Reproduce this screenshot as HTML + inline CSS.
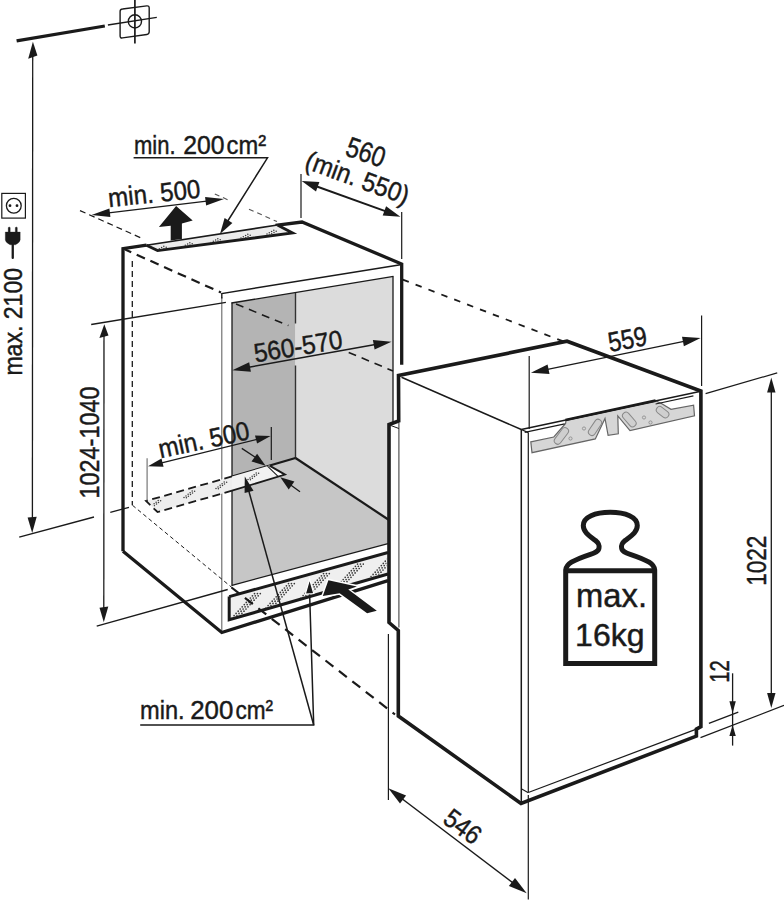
<!DOCTYPE html>
<html><head><meta charset="utf-8"><style>
html,body{margin:0;padding:0;background:#fff;}
svg{display:block;}
text{font-family:"Liberation Sans",sans-serif;stroke:#1a1a1a;stroke-width:0.45px;}
</style></head><body>
<svg width="784" height="900" viewBox="0 0 784 900">
<rect width="784" height="900" fill="#fff"/>
<defs><clipPath id="c0"><polygon points="230.5,598.5 386.5,554.5 386.5,572.5 230.5,617.8"/></clipPath><clipPath id="c1"><polygon points="148,501 262,468.5 276,476.5 159,510.5"/></clipPath><clipPath id="c2"><polygon points="148,245.8 277,225.8 290.5,232.8 157.8,249.7"/></clipPath></defs>
<polygon points="232,303 295.5,292.6 295.5,458 232,476.6" fill="#b4b4b4" stroke="none" stroke-width="0"/>
<polygon points="295.5,292.6 393,276.6 393,524 295.5,458" fill="#dcdcdc" stroke="none" stroke-width="0"/>
<polygon points="232,476.6 295.5,458 388,519 388,543.6 232,585.5" fill="#c6c6c6" stroke="none" stroke-width="0"/>
<line x1="232" y1="302.5" x2="232" y2="586" stroke="#1a1a1a" stroke-width="1.3" stroke-linecap="butt"/>
<line x1="231.5" y1="303" x2="393.5" y2="276.4" stroke="#1a1a1a" stroke-width="1.3" stroke-linecap="butt"/>
<line x1="393" y1="276.6" x2="393" y2="430" stroke="#1a1a1a" stroke-width="1.3" stroke-linecap="butt"/>
<line x1="295.5" y1="293" x2="295.5" y2="323.5" stroke="#333" stroke-width="1.4" stroke-linecap="butt"/>
<line x1="295.5" y1="365.5" x2="295.5" y2="458" stroke="#333" stroke-width="1.4" stroke-linecap="butt"/>
<line x1="295.5" y1="458" x2="389" y2="520" stroke="#1a1a1a" stroke-width="2.2" stroke-linecap="butt"/>
<line x1="295.5" y1="458" x2="232" y2="476.6" stroke="#1a1a1a" stroke-width="2.2" stroke-linecap="butt"/>
<line x1="232" y1="585.3" x2="388" y2="543.6" stroke="#1a1a1a" stroke-width="1.3" stroke-linecap="butt"/>
<line x1="221.8" y1="632.5" x2="221.8" y2="297" stroke="#666" stroke-width="1.1" stroke-linecap="butt"/>
<polyline points="221.8,298.5 221.8,293.5 400.5,264.8" fill="none" stroke="#1a1a1a" stroke-width="1.4" stroke-linejoin="miter" stroke-linecap="butt"/>
<polyline points="123,551.2 123,248.6 146.5,245.1" fill="none" stroke="#1a1a1a" stroke-width="3.3" stroke-linejoin="miter" stroke-linecap="butt"/>
<polyline points="275.5,225.3 302,222 401.7,264 401.7,364.8" fill="none" stroke="#1a1a1a" stroke-width="3.3" stroke-linejoin="miter" stroke-linecap="butt"/>
<polyline points="123,551.2 221.8,632.5 388,580.6" fill="none" stroke="#1a1a1a" stroke-width="3.3" stroke-linejoin="miter" stroke-linecap="butt"/>
<polygon points="146.4,245.3 277.4,225 292.6,233 157.6,250.6" fill="#ececec" stroke="none" stroke-width="0"/>
<line x1="146.4" y1="245.3" x2="277.4" y2="225" stroke="#1a1a1a" stroke-width="1.6" stroke-linecap="butt"/>
<polyline points="277.4,225 292.6,233 157.6,250.6 146.4,245.3" fill="none" stroke="#1a1a1a" stroke-width="2.8" stroke-linejoin="miter" stroke-linecap="butt"/>
<line x1="123" y1="248.6" x2="221" y2="292.5" stroke="#1a1a1a" stroke-width="2.2" stroke-linecap="butt" stroke-dasharray="9,6"/>
<line x1="132.3" y1="261" x2="132.3" y2="505.3" stroke="#1a1a1a" stroke-width="1.3" stroke-linecap="butt" stroke-dasharray="6,4"/>
<line x1="132.5" y1="505.3" x2="232" y2="587.6" stroke="#1a1a1a" stroke-width="1" stroke-linecap="butt" stroke-dasharray="4,3"/>
<line x1="236" y1="304" x2="288.4" y2="325.6" stroke="#1a1a1a" stroke-width="1.6" stroke-linecap="butt" stroke-dasharray="8,6"/>
<line x1="348.7" y1="352.4" x2="393" y2="371" stroke="#1a1a1a" stroke-width="1.6" stroke-linecap="butt" stroke-dasharray="8,6"/>
<polygon points="146,501 232,476.4 232,490.7 157.5,512" fill="#eeeeee" stroke="none" stroke-width="0"/>
<polyline points="232,476.4 146,501 157.5,512 232,490.7" fill="none" stroke="#1a1a1a" stroke-width="1.8" stroke-linejoin="miter" stroke-linecap="butt" stroke-dasharray="8,4.5"/>
<polygon points="232,476.4 269.5,465.6 285,474.6 232,490.7" fill="#f2f2f2" stroke="none" stroke-width="0"/>
<polygon points="267.5,466.2 269.5,465.6 285,474.6 278.3,476.6" fill="#ffffff" stroke="none" stroke-width="0"/>
<line x1="267.5" y1="466.2" x2="278.3" y2="476.6" stroke="#1a1a1a" stroke-width="1.1" stroke-linecap="butt"/>
<polyline points="269.5,465.6 285,474.6 232,490.7" fill="none" stroke="#1a1a1a" stroke-width="1.8" stroke-linejoin="miter" stroke-linecap="butt"/>
<polygon points="229.2,596.6 388,552.5 388,574 229.2,619.8" fill="#efefef" stroke="none" stroke-width="0"/>
<polyline points="229.2,596.6 388,552.5" fill="none" stroke="#1a1a1a" stroke-width="3" stroke-linejoin="miter" stroke-linecap="butt"/>
<polyline points="229.2,596.6 229.2,619.8 388,574" fill="none" stroke="#1a1a1a" stroke-width="3" stroke-linejoin="miter" stroke-linecap="butt"/>
<g clip-path="url(#c0)"><circle cx="230" cy="620" r="0.85" fill="#3a3a3a"/><circle cx="232.9" cy="620" r="0.85" fill="#3a3a3a"/><circle cx="235.8" cy="620" r="0.85" fill="#3a3a3a"/><circle cx="232" cy="617.8" r="0.85" fill="#3a3a3a"/><circle cx="234.9" cy="617.8" r="0.85" fill="#3a3a3a"/><circle cx="237.8" cy="617.8" r="0.85" fill="#3a3a3a"/><circle cx="234.1" cy="615.6" r="0.85" fill="#3a3a3a"/><circle cx="237" cy="615.6" r="0.85" fill="#3a3a3a"/><circle cx="239.9" cy="615.6" r="0.85" fill="#3a3a3a"/><circle cx="236.1" cy="613.4" r="0.85" fill="#3a3a3a"/><circle cx="239" cy="613.4" r="0.85" fill="#3a3a3a"/><circle cx="241.9" cy="613.4" r="0.85" fill="#3a3a3a"/><circle cx="238.2" cy="611.2" r="0.85" fill="#3a3a3a"/><circle cx="241.1" cy="611.2" r="0.85" fill="#3a3a3a"/><circle cx="244" cy="611.2" r="0.85" fill="#3a3a3a"/><circle cx="240.2" cy="609" r="0.85" fill="#3a3a3a"/><circle cx="243.1" cy="609" r="0.85" fill="#3a3a3a"/><circle cx="246" cy="609" r="0.85" fill="#3a3a3a"/><circle cx="242.2" cy="606.8" r="0.85" fill="#3a3a3a"/><circle cx="245.1" cy="606.8" r="0.85" fill="#3a3a3a"/><circle cx="248" cy="606.8" r="0.85" fill="#3a3a3a"/><circle cx="244.3" cy="604.6" r="0.85" fill="#3a3a3a"/><circle cx="247.2" cy="604.6" r="0.85" fill="#3a3a3a"/><circle cx="250.1" cy="604.6" r="0.85" fill="#3a3a3a"/><circle cx="246.3" cy="602.4" r="0.85" fill="#3a3a3a"/><circle cx="249.2" cy="602.4" r="0.85" fill="#3a3a3a"/><circle cx="252.1" cy="602.4" r="0.85" fill="#3a3a3a"/><circle cx="248.3" cy="600.2" r="0.85" fill="#3a3a3a"/><circle cx="251.2" cy="600.2" r="0.85" fill="#3a3a3a"/><circle cx="254.1" cy="600.2" r="0.85" fill="#3a3a3a"/><circle cx="250.4" cy="598" r="0.85" fill="#3a3a3a"/><circle cx="253.3" cy="598" r="0.85" fill="#3a3a3a"/><circle cx="256.2" cy="598" r="0.85" fill="#3a3a3a"/><circle cx="252.4" cy="595.8" r="0.85" fill="#3a3a3a"/><circle cx="255.3" cy="595.8" r="0.85" fill="#3a3a3a"/><circle cx="258.2" cy="595.8" r="0.85" fill="#3a3a3a"/><circle cx="254.5" cy="593.6" r="0.85" fill="#3a3a3a"/><circle cx="257.4" cy="593.6" r="0.85" fill="#3a3a3a"/><circle cx="260.3" cy="593.6" r="0.85" fill="#3a3a3a"/><circle cx="264" cy="610" r="0.85" fill="#3a3a3a"/><circle cx="266.9" cy="610" r="0.85" fill="#3a3a3a"/><circle cx="269.8" cy="610" r="0.85" fill="#3a3a3a"/><circle cx="266" cy="607.8" r="0.85" fill="#3a3a3a"/><circle cx="268.9" cy="607.8" r="0.85" fill="#3a3a3a"/><circle cx="271.8" cy="607.8" r="0.85" fill="#3a3a3a"/><circle cx="268.1" cy="605.6" r="0.85" fill="#3a3a3a"/><circle cx="271" cy="605.6" r="0.85" fill="#3a3a3a"/><circle cx="273.9" cy="605.6" r="0.85" fill="#3a3a3a"/><circle cx="270.1" cy="603.4" r="0.85" fill="#3a3a3a"/><circle cx="273" cy="603.4" r="0.85" fill="#3a3a3a"/><circle cx="275.9" cy="603.4" r="0.85" fill="#3a3a3a"/><circle cx="272.2" cy="601.2" r="0.85" fill="#3a3a3a"/><circle cx="275.1" cy="601.2" r="0.85" fill="#3a3a3a"/><circle cx="278" cy="601.2" r="0.85" fill="#3a3a3a"/><circle cx="274.2" cy="599" r="0.85" fill="#3a3a3a"/><circle cx="277.1" cy="599" r="0.85" fill="#3a3a3a"/><circle cx="280" cy="599" r="0.85" fill="#3a3a3a"/><circle cx="276.2" cy="596.8" r="0.85" fill="#3a3a3a"/><circle cx="279.1" cy="596.8" r="0.85" fill="#3a3a3a"/><circle cx="282" cy="596.8" r="0.85" fill="#3a3a3a"/><circle cx="278.3" cy="594.6" r="0.85" fill="#3a3a3a"/><circle cx="281.2" cy="594.6" r="0.85" fill="#3a3a3a"/><circle cx="284.1" cy="594.6" r="0.85" fill="#3a3a3a"/><circle cx="280.3" cy="592.4" r="0.85" fill="#3a3a3a"/><circle cx="283.2" cy="592.4" r="0.85" fill="#3a3a3a"/><circle cx="286.1" cy="592.4" r="0.85" fill="#3a3a3a"/><circle cx="282.3" cy="590.2" r="0.85" fill="#3a3a3a"/><circle cx="285.2" cy="590.2" r="0.85" fill="#3a3a3a"/><circle cx="288.1" cy="590.2" r="0.85" fill="#3a3a3a"/><circle cx="284.4" cy="588" r="0.85" fill="#3a3a3a"/><circle cx="287.3" cy="588" r="0.85" fill="#3a3a3a"/><circle cx="290.2" cy="588" r="0.85" fill="#3a3a3a"/><circle cx="286.4" cy="585.8" r="0.85" fill="#3a3a3a"/><circle cx="289.3" cy="585.8" r="0.85" fill="#3a3a3a"/><circle cx="292.2" cy="585.8" r="0.85" fill="#3a3a3a"/><circle cx="288.5" cy="583.6" r="0.85" fill="#3a3a3a"/><circle cx="291.4" cy="583.6" r="0.85" fill="#3a3a3a"/><circle cx="294.3" cy="583.6" r="0.85" fill="#3a3a3a"/><circle cx="299" cy="600" r="0.85" fill="#3a3a3a"/><circle cx="301.9" cy="600" r="0.85" fill="#3a3a3a"/><circle cx="304.8" cy="600" r="0.85" fill="#3a3a3a"/><circle cx="301" cy="597.8" r="0.85" fill="#3a3a3a"/><circle cx="303.9" cy="597.8" r="0.85" fill="#3a3a3a"/><circle cx="306.8" cy="597.8" r="0.85" fill="#3a3a3a"/><circle cx="303.1" cy="595.6" r="0.85" fill="#3a3a3a"/><circle cx="306" cy="595.6" r="0.85" fill="#3a3a3a"/><circle cx="308.9" cy="595.6" r="0.85" fill="#3a3a3a"/><circle cx="305.1" cy="593.4" r="0.85" fill="#3a3a3a"/><circle cx="308" cy="593.4" r="0.85" fill="#3a3a3a"/><circle cx="310.9" cy="593.4" r="0.85" fill="#3a3a3a"/><circle cx="307.2" cy="591.2" r="0.85" fill="#3a3a3a"/><circle cx="310.1" cy="591.2" r="0.85" fill="#3a3a3a"/><circle cx="313" cy="591.2" r="0.85" fill="#3a3a3a"/><circle cx="309.2" cy="589" r="0.85" fill="#3a3a3a"/><circle cx="312.1" cy="589" r="0.85" fill="#3a3a3a"/><circle cx="315" cy="589" r="0.85" fill="#3a3a3a"/><circle cx="311.2" cy="586.8" r="0.85" fill="#3a3a3a"/><circle cx="314.1" cy="586.8" r="0.85" fill="#3a3a3a"/><circle cx="317" cy="586.8" r="0.85" fill="#3a3a3a"/><circle cx="313.3" cy="584.6" r="0.85" fill="#3a3a3a"/><circle cx="316.2" cy="584.6" r="0.85" fill="#3a3a3a"/><circle cx="319.1" cy="584.6" r="0.85" fill="#3a3a3a"/><circle cx="315.3" cy="582.4" r="0.85" fill="#3a3a3a"/><circle cx="318.2" cy="582.4" r="0.85" fill="#3a3a3a"/><circle cx="321.1" cy="582.4" r="0.85" fill="#3a3a3a"/><circle cx="317.3" cy="580.2" r="0.85" fill="#3a3a3a"/><circle cx="320.2" cy="580.2" r="0.85" fill="#3a3a3a"/><circle cx="323.1" cy="580.2" r="0.85" fill="#3a3a3a"/><circle cx="319.4" cy="578" r="0.85" fill="#3a3a3a"/><circle cx="322.3" cy="578" r="0.85" fill="#3a3a3a"/><circle cx="325.2" cy="578" r="0.85" fill="#3a3a3a"/><circle cx="321.4" cy="575.8" r="0.85" fill="#3a3a3a"/><circle cx="324.3" cy="575.8" r="0.85" fill="#3a3a3a"/><circle cx="327.2" cy="575.8" r="0.85" fill="#3a3a3a"/><circle cx="323.5" cy="573.6" r="0.85" fill="#3a3a3a"/><circle cx="326.4" cy="573.6" r="0.85" fill="#3a3a3a"/><circle cx="329.3" cy="573.6" r="0.85" fill="#3a3a3a"/><circle cx="333" cy="590.5" r="0.85" fill="#3a3a3a"/><circle cx="335.9" cy="590.5" r="0.85" fill="#3a3a3a"/><circle cx="338.8" cy="590.5" r="0.85" fill="#3a3a3a"/><circle cx="335" cy="588.3" r="0.85" fill="#3a3a3a"/><circle cx="337.9" cy="588.3" r="0.85" fill="#3a3a3a"/><circle cx="340.8" cy="588.3" r="0.85" fill="#3a3a3a"/><circle cx="337.1" cy="586.1" r="0.85" fill="#3a3a3a"/><circle cx="340" cy="586.1" r="0.85" fill="#3a3a3a"/><circle cx="342.9" cy="586.1" r="0.85" fill="#3a3a3a"/><circle cx="339.1" cy="583.9" r="0.85" fill="#3a3a3a"/><circle cx="342" cy="583.9" r="0.85" fill="#3a3a3a"/><circle cx="344.9" cy="583.9" r="0.85" fill="#3a3a3a"/><circle cx="341.2" cy="581.7" r="0.85" fill="#3a3a3a"/><circle cx="344.1" cy="581.7" r="0.85" fill="#3a3a3a"/><circle cx="347" cy="581.7" r="0.85" fill="#3a3a3a"/><circle cx="343.2" cy="579.5" r="0.85" fill="#3a3a3a"/><circle cx="346.1" cy="579.5" r="0.85" fill="#3a3a3a"/><circle cx="349" cy="579.5" r="0.85" fill="#3a3a3a"/><circle cx="345.2" cy="577.3" r="0.85" fill="#3a3a3a"/><circle cx="348.1" cy="577.3" r="0.85" fill="#3a3a3a"/><circle cx="351" cy="577.3" r="0.85" fill="#3a3a3a"/><circle cx="347.3" cy="575.1" r="0.85" fill="#3a3a3a"/><circle cx="350.2" cy="575.1" r="0.85" fill="#3a3a3a"/><circle cx="353.1" cy="575.1" r="0.85" fill="#3a3a3a"/><circle cx="349.3" cy="572.9" r="0.85" fill="#3a3a3a"/><circle cx="352.2" cy="572.9" r="0.85" fill="#3a3a3a"/><circle cx="355.1" cy="572.9" r="0.85" fill="#3a3a3a"/><circle cx="351.3" cy="570.7" r="0.85" fill="#3a3a3a"/><circle cx="354.2" cy="570.7" r="0.85" fill="#3a3a3a"/><circle cx="357.1" cy="570.7" r="0.85" fill="#3a3a3a"/><circle cx="353.4" cy="568.5" r="0.85" fill="#3a3a3a"/><circle cx="356.3" cy="568.5" r="0.85" fill="#3a3a3a"/><circle cx="359.2" cy="568.5" r="0.85" fill="#3a3a3a"/><circle cx="355.4" cy="566.3" r="0.85" fill="#3a3a3a"/><circle cx="358.3" cy="566.3" r="0.85" fill="#3a3a3a"/><circle cx="361.2" cy="566.3" r="0.85" fill="#3a3a3a"/><circle cx="357.5" cy="564.1" r="0.85" fill="#3a3a3a"/><circle cx="360.4" cy="564.1" r="0.85" fill="#3a3a3a"/><circle cx="363.3" cy="564.1" r="0.85" fill="#3a3a3a"/><circle cx="367" cy="581" r="0.85" fill="#3a3a3a"/><circle cx="369.9" cy="581" r="0.85" fill="#3a3a3a"/><circle cx="372.8" cy="581" r="0.85" fill="#3a3a3a"/><circle cx="369" cy="578.8" r="0.85" fill="#3a3a3a"/><circle cx="371.9" cy="578.8" r="0.85" fill="#3a3a3a"/><circle cx="374.8" cy="578.8" r="0.85" fill="#3a3a3a"/><circle cx="371.1" cy="576.6" r="0.85" fill="#3a3a3a"/><circle cx="374" cy="576.6" r="0.85" fill="#3a3a3a"/><circle cx="376.9" cy="576.6" r="0.85" fill="#3a3a3a"/><circle cx="373.1" cy="574.4" r="0.85" fill="#3a3a3a"/><circle cx="376" cy="574.4" r="0.85" fill="#3a3a3a"/><circle cx="378.9" cy="574.4" r="0.85" fill="#3a3a3a"/><circle cx="375.2" cy="572.2" r="0.85" fill="#3a3a3a"/><circle cx="378.1" cy="572.2" r="0.85" fill="#3a3a3a"/><circle cx="381" cy="572.2" r="0.85" fill="#3a3a3a"/><circle cx="377.2" cy="570" r="0.85" fill="#3a3a3a"/><circle cx="380.1" cy="570" r="0.85" fill="#3a3a3a"/><circle cx="383" cy="570" r="0.85" fill="#3a3a3a"/><circle cx="379.2" cy="567.8" r="0.85" fill="#3a3a3a"/><circle cx="382.1" cy="567.8" r="0.85" fill="#3a3a3a"/><circle cx="385" cy="567.8" r="0.85" fill="#3a3a3a"/><circle cx="381.3" cy="565.6" r="0.85" fill="#3a3a3a"/><circle cx="384.2" cy="565.6" r="0.85" fill="#3a3a3a"/><circle cx="387.1" cy="565.6" r="0.85" fill="#3a3a3a"/><circle cx="383.3" cy="563.4" r="0.85" fill="#3a3a3a"/><circle cx="386.2" cy="563.4" r="0.85" fill="#3a3a3a"/><circle cx="389.1" cy="563.4" r="0.85" fill="#3a3a3a"/><circle cx="385.3" cy="561.2" r="0.85" fill="#3a3a3a"/><circle cx="388.2" cy="561.2" r="0.85" fill="#3a3a3a"/><circle cx="391.1" cy="561.2" r="0.85" fill="#3a3a3a"/><circle cx="387.4" cy="559" r="0.85" fill="#3a3a3a"/><circle cx="390.3" cy="559" r="0.85" fill="#3a3a3a"/><circle cx="393.2" cy="559" r="0.85" fill="#3a3a3a"/><circle cx="389.4" cy="556.8" r="0.85" fill="#3a3a3a"/><circle cx="392.3" cy="556.8" r="0.85" fill="#3a3a3a"/><circle cx="395.2" cy="556.8" r="0.85" fill="#3a3a3a"/><circle cx="391.5" cy="554.6" r="0.85" fill="#3a3a3a"/><circle cx="394.4" cy="554.6" r="0.85" fill="#3a3a3a"/><circle cx="397.3" cy="554.6" r="0.85" fill="#3a3a3a"/></g>
<g clip-path="url(#c1)"><circle cx="150" cy="507" r="0.75" fill="#3a3a3a"/><circle cx="152.4" cy="507.3" r="0.75" fill="#3a3a3a"/><circle cx="152" cy="505.4" r="0.75" fill="#3a3a3a"/><circle cx="154.4" cy="505.7" r="0.75" fill="#3a3a3a"/><circle cx="154.1" cy="503.8" r="0.75" fill="#3a3a3a"/><circle cx="156.5" cy="504.1" r="0.75" fill="#3a3a3a"/><circle cx="156.1" cy="502.2" r="0.75" fill="#3a3a3a"/><circle cx="158.5" cy="502.5" r="0.75" fill="#3a3a3a"/><circle cx="158.2" cy="500.5" r="0.75" fill="#3a3a3a"/><circle cx="160.6" cy="500.8" r="0.75" fill="#3a3a3a"/><circle cx="184" cy="497.5" r="0.75" fill="#3a3a3a"/><circle cx="186.4" cy="497.8" r="0.75" fill="#3a3a3a"/><circle cx="186" cy="495.9" r="0.75" fill="#3a3a3a"/><circle cx="188.4" cy="496.2" r="0.75" fill="#3a3a3a"/><circle cx="188.1" cy="494.3" r="0.75" fill="#3a3a3a"/><circle cx="190.5" cy="494.6" r="0.75" fill="#3a3a3a"/><circle cx="190.1" cy="492.7" r="0.75" fill="#3a3a3a"/><circle cx="192.5" cy="493" r="0.75" fill="#3a3a3a"/><circle cx="192.2" cy="491" r="0.75" fill="#3a3a3a"/><circle cx="194.6" cy="491.3" r="0.75" fill="#3a3a3a"/><circle cx="216" cy="488.5" r="0.75" fill="#3a3a3a"/><circle cx="218.4" cy="488.8" r="0.75" fill="#3a3a3a"/><circle cx="218" cy="486.9" r="0.75" fill="#3a3a3a"/><circle cx="220.4" cy="487.2" r="0.75" fill="#3a3a3a"/><circle cx="220.1" cy="485.3" r="0.75" fill="#3a3a3a"/><circle cx="222.5" cy="485.6" r="0.75" fill="#3a3a3a"/><circle cx="222.1" cy="483.7" r="0.75" fill="#3a3a3a"/><circle cx="224.5" cy="484" r="0.75" fill="#3a3a3a"/><circle cx="224.2" cy="482" r="0.75" fill="#3a3a3a"/><circle cx="226.6" cy="482.3" r="0.75" fill="#3a3a3a"/><circle cx="248" cy="479.5" r="0.75" fill="#3a3a3a"/><circle cx="250.4" cy="479.8" r="0.75" fill="#3a3a3a"/><circle cx="250" cy="477.9" r="0.75" fill="#3a3a3a"/><circle cx="252.4" cy="478.2" r="0.75" fill="#3a3a3a"/><circle cx="252.1" cy="476.3" r="0.75" fill="#3a3a3a"/><circle cx="254.5" cy="476.6" r="0.75" fill="#3a3a3a"/><circle cx="254.1" cy="474.7" r="0.75" fill="#3a3a3a"/><circle cx="256.5" cy="475" r="0.75" fill="#3a3a3a"/><circle cx="256.2" cy="473" r="0.75" fill="#3a3a3a"/><circle cx="258.6" cy="473.3" r="0.75" fill="#3a3a3a"/></g>
<g clip-path="url(#c2)"><circle cx="157" cy="250" r="0.75" fill="#3a3a3a"/><circle cx="159.4" cy="251" r="0.75" fill="#3a3a3a"/><circle cx="159.3" cy="248.7" r="0.75" fill="#3a3a3a"/><circle cx="161.7" cy="249.7" r="0.75" fill="#3a3a3a"/><circle cx="161.6" cy="247.5" r="0.75" fill="#3a3a3a"/><circle cx="164" cy="248.5" r="0.75" fill="#3a3a3a"/><circle cx="163.8" cy="246.2" r="0.75" fill="#3a3a3a"/><circle cx="166.2" cy="247.2" r="0.75" fill="#3a3a3a"/><circle cx="183" cy="246.5" r="0.75" fill="#3a3a3a"/><circle cx="185.4" cy="247.5" r="0.75" fill="#3a3a3a"/><circle cx="185.3" cy="245.2" r="0.75" fill="#3a3a3a"/><circle cx="187.7" cy="246.2" r="0.75" fill="#3a3a3a"/><circle cx="187.6" cy="244" r="0.75" fill="#3a3a3a"/><circle cx="190" cy="245" r="0.75" fill="#3a3a3a"/><circle cx="189.8" cy="242.7" r="0.75" fill="#3a3a3a"/><circle cx="192.2" cy="243.7" r="0.75" fill="#3a3a3a"/><circle cx="211" cy="242.5" r="0.75" fill="#3a3a3a"/><circle cx="213.4" cy="243.5" r="0.75" fill="#3a3a3a"/><circle cx="213.3" cy="241.2" r="0.75" fill="#3a3a3a"/><circle cx="215.7" cy="242.2" r="0.75" fill="#3a3a3a"/><circle cx="215.6" cy="240" r="0.75" fill="#3a3a3a"/><circle cx="218" cy="241" r="0.75" fill="#3a3a3a"/><circle cx="217.8" cy="238.7" r="0.75" fill="#3a3a3a"/><circle cx="220.2" cy="239.7" r="0.75" fill="#3a3a3a"/><circle cx="241" cy="238" r="0.75" fill="#3a3a3a"/><circle cx="243.4" cy="239" r="0.75" fill="#3a3a3a"/><circle cx="243.3" cy="236.7" r="0.75" fill="#3a3a3a"/><circle cx="245.7" cy="237.7" r="0.75" fill="#3a3a3a"/><circle cx="245.6" cy="235.5" r="0.75" fill="#3a3a3a"/><circle cx="248" cy="236.5" r="0.75" fill="#3a3a3a"/><circle cx="247.8" cy="234.2" r="0.75" fill="#3a3a3a"/><circle cx="250.2" cy="235.2" r="0.75" fill="#3a3a3a"/><circle cx="267" cy="234" r="0.75" fill="#3a3a3a"/><circle cx="269.4" cy="235" r="0.75" fill="#3a3a3a"/><circle cx="269.3" cy="232.7" r="0.75" fill="#3a3a3a"/><circle cx="271.7" cy="233.7" r="0.75" fill="#3a3a3a"/><circle cx="271.6" cy="231.5" r="0.75" fill="#3a3a3a"/><circle cx="274" cy="232.5" r="0.75" fill="#3a3a3a"/><circle cx="273.8" cy="230.2" r="0.75" fill="#3a3a3a"/><circle cx="276.2" cy="231.2" r="0.75" fill="#3a3a3a"/></g>
<polygon points="398.7,421 398.5,375.5 567,341.2 700.9,391 700.9,726.7 696.4,729.1 696.4,736.1 521,803.5 398.3,716 398.3,630.5 389,622.5 389,424.6" fill="#ffffff" stroke="none" stroke-width="0"/>
<polygon points="398.7,421 398.5,375.5 567,341.2 700.9,391 700.9,726.7 696.4,729.1 696.4,736.1 521,803.5 398.3,716 398.3,630.5 389,622.5 389,424.6" fill="none" stroke="#1a1a1a" stroke-width="3.6" stroke-linejoin="miter" stroke-linecap="butt"/>
<line x1="401.5" y1="377.3" x2="521.3" y2="429.5" stroke="#1a1a1a" stroke-width="1.5" stroke-linecap="butt"/>
<line x1="521.3" y1="429.5" x2="521.3" y2="803.5" stroke="#1a1a1a" stroke-width="1.5" stroke-linecap="butt"/>
<line x1="398.9" y1="423" x2="398.9" y2="627.6" stroke="#444" stroke-width="1.1" stroke-linecap="butt"/>
<line x1="390" y1="425.2" x2="398.9" y2="428.5" stroke="#1a1a1a" stroke-width="1" stroke-linecap="butt"/>
<line x1="528.3" y1="432.6" x2="528.3" y2="792.2" stroke="#1a1a1a" stroke-width="1.2" stroke-linecap="butt"/>
<line x1="528.3" y1="792.5" x2="696.4" y2="729.1" stroke="#1a1a1a" stroke-width="1.2" stroke-linecap="butt"/>
<line x1="521.3" y1="788.8" x2="528.3" y2="792.7" stroke="#1a1a1a" stroke-width="1.1" stroke-linecap="butt"/>
<line x1="521.3" y1="429.5" x2="528.3" y2="432.6" stroke="#1a1a1a" stroke-width="1.2" stroke-linecap="butt"/>
<polygon points="530.8,441.8 553.8,437 565.6,423.5 566,420.3 655.6,400.9 661,403.2 671,409.3 693.6,405.2 694.5,415.9 630,430.7 617.8,415.9 618.3,433.8 608.1,435.3 605,418.5 595.3,438.9 532,452.7" fill="#d6d6d6" stroke="#666" stroke-width="1.2"/>
<line x1="521.3" y1="429.5" x2="700.9" y2="391.2" stroke="#1a1a1a" stroke-width="1.6" stroke-linecap="butt"/>
<line x1="565.5" y1="420" x2="655.6" y2="400.6" stroke="#1a1a1a" stroke-width="2.8" stroke-linecap="butt"/>
<line x1="524.7" y1="432.4" x2="564.7" y2="423.9" stroke="#1a1a1a" stroke-width="1.1" stroke-linecap="butt"/>
<line x1="655.6" y1="404" x2="693.4" y2="395.9" stroke="#1a1a1a" stroke-width="1.1" stroke-linecap="butt"/>
<rect x="551.9" y="432.4" width="19" height="7" rx="3.5" fill="#cfcfcf" stroke="#888" stroke-width="1" transform="rotate(-53 561.4 435.9)"/>
<rect x="586" y="423.9" width="18" height="7" rx="3.5" fill="#cfcfcf" stroke="#888" stroke-width="1" transform="rotate(-56 595 427.4)"/>
<rect x="620.8" y="416" width="17" height="7" rx="3.5" fill="#cfcfcf" stroke="#888" stroke-width="1" transform="rotate(49 629.3 419.5)"/>
<rect x="655.6" y="408.7" width="14" height="7" rx="3.5" fill="#cfcfcf" stroke="#888" stroke-width="1" transform="rotate(38 662.6 412.2)"/>
<circle cx="584" cy="428.5" r="1.6" fill="none" stroke="#888" stroke-width="0.8"/>
<circle cx="570.5" cy="438.5" r="1.6" fill="none" stroke="#888" stroke-width="0.8"/>
<circle cx="644" cy="417.5" r="1.6" fill="none" stroke="#888" stroke-width="0.8"/>
<circle cx="650.5" cy="422.5" r="1.6" fill="none" stroke="#888" stroke-width="0.8"/>
<path d="M565.7,663.4 L565.7,570 C566.5,564 572,560.5 590.4,554.3 C595,552.8 598.6,551.5 599,548 C599.4,545 599,543.5 595.5,540.5 C589,535.5 583.3,532 583.3,525.5 C583.3,517 595,512.2 610.3,512.2 C625.6,512.2 637.3,517 637.3,525.5 C637.3,532 631.6,535.5 625.1,540.5 C621.6,543.5 621.2,545 621.6,548 C622,551.5 625.6,552.8 630.2,554.3 C648.6,560.5 654.1,564 654.7,570 L654.7,663.4 Z" fill="none" stroke="#1a1a1a" stroke-width="5" stroke-linejoin="miter"/>
<line x1="565.7" y1="570.8" x2="654.7" y2="570.8" stroke="#1a1a1a" stroke-width="5" stroke-linecap="butt"/>
<line x1="402.7" y1="279.6" x2="563.5" y2="341.5" stroke="#1a1a1a" stroke-width="1.8" stroke-linecap="butt" stroke-dasharray="6.5,7.3"/>
<line x1="231.5" y1="587.5" x2="395" y2="714.5" stroke="#1a1a1a" stroke-width="2.2" stroke-linecap="butt" stroke-dasharray="10,7"/>
<line x1="214.8" y1="193.9" x2="231" y2="201.2" stroke="#555" stroke-width="1.1" stroke-linecap="butt" stroke-dasharray="5,4"/>
<line x1="249" y1="209.2" x2="277" y2="221.6" stroke="#555" stroke-width="1.1" stroke-linecap="butt" stroke-dasharray="5,4"/>
<line x1="16.6" y1="40.9" x2="104.8" y2="26" stroke="#1a1a1a" stroke-width="3.2" stroke-linecap="butt"/>
<line x1="107.9" y1="25" x2="156.8" y2="17.3" stroke="#1a1a1a" stroke-width="1.3" stroke-linecap="butt"/>
<path d="M122.5,9 L146.8,5.9 Q149.2,5.6 149.2,8 L149.2,31.8 Q149.2,34.2 146.8,34.5 L122.5,37.9 Q120.1,38.3 120.1,35.9 L120.1,11.4 Q120.1,9.2 122.5,9 Z" fill="none" stroke="#1a1a1a" stroke-width="1.4" stroke-linejoin="round"/>
<circle cx="134.9" cy="21.4" r="6.6" fill="none" stroke="#1a1a1a" stroke-width="1.4"/>
<line x1="134.9" y1="0" x2="134.9" y2="43.4" stroke="#1a1a1a" stroke-width="1.7" stroke-linecap="butt"/>
<line x1="32.7" y1="55" x2="32.4" y2="520" stroke="#1a1a1a" stroke-width="1.3" stroke-linecap="butt"/>
<polygon points="32.9,41.8 28.2,58.8 37.4,55.6" fill="#1a1a1a" stroke="none" stroke-width="0"/>
<polygon points="32.2,533 27.6,517.6 36.7,516.7" fill="#1a1a1a" stroke="none" stroke-width="0"/>
<line x1="19.2" y1="537.2" x2="94" y2="517" stroke="#1a1a1a" stroke-width="1.3" stroke-linecap="butt"/>
<line x1="110.3" y1="512.4" x2="129" y2="507.3" stroke="#1a1a1a" stroke-width="1.3" stroke-linecap="butt"/>
<line x1="104" y1="335" x2="103.8" y2="610" stroke="#1a1a1a" stroke-width="1.3" stroke-linecap="butt"/>
<polygon points="104.3,324.2 99.4,338 108.5,335.4" fill="#1a1a1a" stroke="none" stroke-width="0"/>
<polygon points="103.8,622.3 99.5,607.8 108.3,606.6" fill="#1a1a1a" stroke="none" stroke-width="0"/>
<line x1="91.2" y1="324.5" x2="225.9" y2="302.4" stroke="#1a1a1a" stroke-width="1.3" stroke-linecap="butt"/>
<line x1="96.7" y1="626.2" x2="227.7" y2="589.5" stroke="#1a1a1a" stroke-width="1.3" stroke-linecap="butt"/>
<line x1="102.5" y1="213.7" x2="213" y2="200.3" stroke="#1a1a1a" stroke-width="1.3" stroke-linecap="butt"/>
<polygon points="91.5,215 109.4,208.5 110.4,217.1" fill="#1a1a1a" stroke="none" stroke-width="0"/>
<polygon points="224,199 206.1,205.5 205.1,196.9" fill="#1a1a1a" stroke="none" stroke-width="0"/>
<line x1="80" y1="210.6" x2="142.5" y2="238.6" stroke="#1a1a1a" stroke-width="1.2" stroke-linecap="butt" stroke-dasharray="6,4"/>
<line x1="301" y1="174" x2="301" y2="218" stroke="#1a1a1a" stroke-width="1.2" stroke-linecap="butt"/>
<line x1="401.7" y1="212" x2="401.7" y2="259" stroke="#1a1a1a" stroke-width="1.2" stroke-linecap="butt"/>
<line x1="311.3" y1="184.5" x2="390.8" y2="213.2" stroke="#1a1a1a" stroke-width="1.9" stroke-linecap="butt"/>
<polygon points="301.7,181 319.4,182.1 316,191.5" fill="#1a1a1a" stroke="none" stroke-width="0"/>
<polygon points="400.4,216.7 382.7,215.6 386.1,206.2" fill="#1a1a1a" stroke="none" stroke-width="0"/>
<line x1="242.9" y1="368.3" x2="380.9" y2="343.6" stroke="#1a1a1a" stroke-width="1.5" stroke-linecap="butt"/>
<polygon points="232.3,370.2 249.2,362.3 250.9,371.8" fill="#1a1a1a" stroke="none" stroke-width="0"/>
<polygon points="391.5,341.7 374.6,349.6 372.9,340.1" fill="#1a1a1a" stroke="none" stroke-width="0"/>
<line x1="147.1" y1="458.2" x2="147.1" y2="500.5" stroke="#777" stroke-width="1.2" stroke-linecap="butt"/>
<line x1="271.3" y1="427" x2="271.3" y2="460" stroke="#1a1a1a" stroke-width="1.2" stroke-linecap="butt"/>
<line x1="156.7" y1="464.1" x2="261.9" y2="438.1" stroke="#1a1a1a" stroke-width="1.3" stroke-linecap="butt"/>
<polygon points="148,466.3 161.5,458.6 163.6,466.8" fill="#1a1a1a" stroke="none" stroke-width="0"/>
<polygon points="270.6,435.9 257.1,443.6 255,435.4" fill="#1a1a1a" stroke="none" stroke-width="0"/>
<line x1="241.8" y1="448.4" x2="256" y2="457.7" stroke="#1a1a1a" stroke-width="1.3" stroke-linecap="butt"/>
<polygon points="265.6,465.8 251.5,461.4 257.1,453.7" fill="#1a1a1a" stroke="none" stroke-width="0"/>
<line x1="300" y1="491.7" x2="290" y2="484.5" stroke="#1a1a1a" stroke-width="1.3" stroke-linecap="butt"/>
<polygon points="280.3,477.2 294.4,481.6 288.7,489.4" fill="#1a1a1a" stroke="none" stroke-width="0"/>
<line x1="529.2" y1="356" x2="529.2" y2="429" stroke="#1a1a1a" stroke-width="1.2" stroke-linecap="butt"/>
<line x1="701.6" y1="315.4" x2="701.6" y2="386" stroke="#1a1a1a" stroke-width="1.2" stroke-linecap="butt"/>
<line x1="541.5" y1="370.6" x2="690" y2="340.1" stroke="#1a1a1a" stroke-width="1.3" stroke-linecap="butt"/>
<polygon points="530.9,372.8 547.6,364.5 549.5,373.9" fill="#1a1a1a" stroke="none" stroke-width="0"/>
<polygon points="700.6,337.9 683.9,346.2 682,336.8" fill="#1a1a1a" stroke="none" stroke-width="0"/>
<line x1="705.6" y1="393.6" x2="777.2" y2="372.9" stroke="#1a1a1a" stroke-width="1.2" stroke-linecap="butt"/>
<line x1="700.5" y1="737.6" x2="784" y2="705.3" stroke="#1a1a1a" stroke-width="1.2" stroke-linecap="butt"/>
<line x1="771.3" y1="386.6" x2="771.3" y2="699" stroke="#1a1a1a" stroke-width="1.3" stroke-linecap="butt"/>
<polygon points="771.3,377.6 775.5,392.6 767.1,392.6" fill="#1a1a1a" stroke="none" stroke-width="0"/>
<polygon points="771.3,708 767.1,693 775.5,693" fill="#1a1a1a" stroke="none" stroke-width="0"/>
<line x1="708.9" y1="723.3" x2="738.3" y2="712.2" stroke="#1a1a1a" stroke-width="1.3" stroke-linecap="butt"/>
<line x1="732.6" y1="673.3" x2="732.6" y2="745.6" stroke="#1a1a1a" stroke-width="1.3" stroke-linecap="butt"/>
<polygon points="732.6,713.3 729.4,701.3 735.8,701.3" fill="#1a1a1a" stroke="none" stroke-width="0"/>
<polygon points="732.6,725 735.8,736 729.4,736" fill="#1a1a1a" stroke="none" stroke-width="0"/>
<line x1="388.4" y1="634" x2="388.4" y2="800" stroke="#1a1a1a" stroke-width="1.2" stroke-linecap="butt"/>
<line x1="528.3" y1="795" x2="528.3" y2="899.5" stroke="#1a1a1a" stroke-width="1.2" stroke-linecap="butt"/>
<line x1="397.1" y1="795" x2="517.9" y2="886.6" stroke="#1a1a1a" stroke-width="1.5" stroke-linecap="butt"/>
<polygon points="388.3,788.3 406.1,795.5 400,803.5" fill="#1a1a1a" stroke="none" stroke-width="0"/>
<polygon points="526.7,893.3 508.9,886.1 515,878.1" fill="#1a1a1a" stroke="none" stroke-width="0"/>
<polyline points="133.6,157.8 267.5,157.8 224,227" fill="none" stroke="#1a1a1a" stroke-width="1.5" stroke-linejoin="miter" stroke-linecap="butt"/>
<polygon points="220,234 224.6,218 232.4,222.9" fill="#1a1a1a" stroke="none" stroke-width="0"/>
<polyline points="140.2,725 313.7,725 309.6,593" fill="none" stroke="#1a1a1a" stroke-width="1.5" stroke-linejoin="miter" stroke-linecap="butt"/>
<line x1="313.7" y1="725" x2="248.8" y2="491" stroke="#1a1a1a" stroke-width="1.5" stroke-linecap="butt"/>
<polygon points="244.8,476.5 253.5,490.7 244.6,493.1" fill="#1a1a1a" stroke="none" stroke-width="0"/>
<polygon points="170.7,240.6 181.9,239 181.9,223.5 192.7,220.6 176.1,206 158.9,227 170.7,225.7" fill="#1a1a1a" stroke="none" stroke-width="0"/>
<polygon points="328.4,580.3 322.8,596.1 339.6,593.3 367.1,613.3 376.8,610.8 348.3,589.6 356.9,586.4" fill="#fff" stroke="#fff" stroke-width="3" stroke-linejoin="miter" stroke-linecap="butt"/>
<polygon points="328.4,580.3 322.8,596.1 339.6,593.3 367.1,613.3 376.8,610.8 348.3,589.6 356.9,586.4" fill="#1a1a1a" stroke="none" stroke-width="0"/>
<polygon points="309.6,579 305.3,594 313.8,593.5" fill="#1a1a1a" stroke="#fff" stroke-width="1.2"/>
<rect x="1.8" y="193.4" width="23.6" height="24.7" fill="none" stroke="#1a1a1a" stroke-width="1.2"/>
<circle cx="13.8" cy="205.7" r="7.4" fill="none" stroke="#1a1a1a" stroke-width="1.3"/>
<circle cx="10" cy="205.7" r="1.4" fill="#1a1a1a"/><circle cx="17" cy="205.7" r="1.4" fill="#1a1a1a"/>
<path d="M8.2,233 L8.2,227.6 Q9.2,226.2 10.2,227.6 L10.2,233 Z M15.3,233 L15.3,227.6 Q16.3,226.2 17.3,227.6 L17.3,233 Z" fill="#1a1a1a" stroke="#1a1a1a" stroke-width="0.3" stroke-linejoin="round"/>
<path d="M5.3,232 L20.2,232 L20.2,239.5 Q20.2,242.5 15.5,244.8 L10,244.8 Q5.3,242.5 5.3,239.5 Z" fill="#1a1a1a" stroke="#1a1a1a" stroke-width="0.3" stroke-linejoin="round"/>
<rect x="11.6" y="243" width="2.3" height="16" rx="1.1" fill="#1a1a1a"/>
<text x="134" y="153.6" font-size="26.5" textLength="41.6" lengthAdjust="spacingAndGlyphs" text-anchor="start" font-weight="normal" fill="#1a1a1a">min.</text>
<text x="183.3" y="153.6" font-size="26.5" textLength="41.3" lengthAdjust="spacingAndGlyphs" text-anchor="start" font-weight="normal" fill="#1a1a1a">200</text>
<text x="226.6" y="153.6" font-size="26.5" textLength="39.5" lengthAdjust="spacingAndGlyphs" text-anchor="start" font-weight="normal" fill="#1a1a1a">cm²</text>
<text x="140" y="718.6" font-size="26.5" textLength="44.6" lengthAdjust="spacingAndGlyphs" text-anchor="start" font-weight="normal" fill="#1a1a1a">min.</text>
<text x="190.2" y="718.6" font-size="26.5" textLength="43.2" lengthAdjust="spacingAndGlyphs" text-anchor="start" font-weight="normal" fill="#1a1a1a">200</text>
<text x="235.4" y="718.6" font-size="26.5" textLength="37.7" lengthAdjust="spacingAndGlyphs" text-anchor="start" font-weight="normal" fill="#1a1a1a">cm²</text>
<text x="109.1" y="207.2" font-size="26.5" textLength="92.5" lengthAdjust="spacingAndGlyphs" transform="rotate(-5.9 109.1 207.2)" text-anchor="start" font-weight="normal" fill="#1a1a1a">min. 500</text>
<text x="344" y="155" font-size="28.5" textLength="39.5" lengthAdjust="spacingAndGlyphs" transform="rotate(19 344 155)" text-anchor="start" font-weight="normal" fill="#1a1a1a">560</text>
<text x="303.4" y="167.8" font-size="26.5" textLength="108.5" lengthAdjust="spacingAndGlyphs" transform="rotate(20 303.4 167.8)" text-anchor="start" font-weight="normal" fill="#1a1a1a">(min. 550)</text>
<text x="255.4" y="362.5" font-size="26.5" textLength="89.5" lengthAdjust="spacingAndGlyphs" transform="rotate(-9.2 255.4 362.5)" text-anchor="start" font-weight="normal" fill="#1a1a1a">560-570</text>
<text x="160.5" y="458.3" font-size="26.5" textLength="92.5" lengthAdjust="spacingAndGlyphs" transform="rotate(-12 160.5 458.3)" text-anchor="start" font-weight="normal" fill="#1a1a1a">min. 500</text>
<text x="610" y="352" font-size="27.5" textLength="39" lengthAdjust="spacingAndGlyphs" transform="rotate(-10.5 610 352)" text-anchor="start" font-weight="normal" fill="#1a1a1a">559</text>
<text x="441.5" y="822" font-size="26.5" textLength="39.5" lengthAdjust="spacingAndGlyphs" transform="rotate(37 441.5 822)" text-anchor="start" font-weight="normal" fill="#1a1a1a">546</text>
<text x="22.3" y="375.6" font-size="26.5" textLength="107.7" lengthAdjust="spacingAndGlyphs" transform="rotate(-90 22.3 375.6)" text-anchor="start" font-weight="normal" fill="#1a1a1a">max. 2100</text>
<text x="98.9" y="498.6" font-size="28" textLength="112.2" lengthAdjust="spacingAndGlyphs" transform="rotate(-90 98.9 498.6)" text-anchor="start" font-weight="normal" fill="#1a1a1a">1024-1040</text>
<text x="765.6" y="585.8" font-size="28" textLength="50.2" lengthAdjust="spacingAndGlyphs" transform="rotate(-90 765.6 585.8)" text-anchor="start" font-weight="normal" fill="#1a1a1a">1022</text>
<text x="729.1" y="682.7" font-size="28" textLength="22.6" lengthAdjust="spacingAndGlyphs" transform="rotate(-90 729.1 682.7)" text-anchor="start" font-weight="normal" fill="#1a1a1a">12</text>
<text x="576.1" y="606.8" font-size="33" textLength="70.9" lengthAdjust="spacingAndGlyphs" text-anchor="start" font-weight="normal" fill="#1a1a1a">max.</text>
<text x="575.1" y="646.2" font-size="30.5" textLength="69.4" lengthAdjust="spacingAndGlyphs" text-anchor="start" font-weight="normal" fill="#1a1a1a">16kg</text>
</svg>
</body></html>
